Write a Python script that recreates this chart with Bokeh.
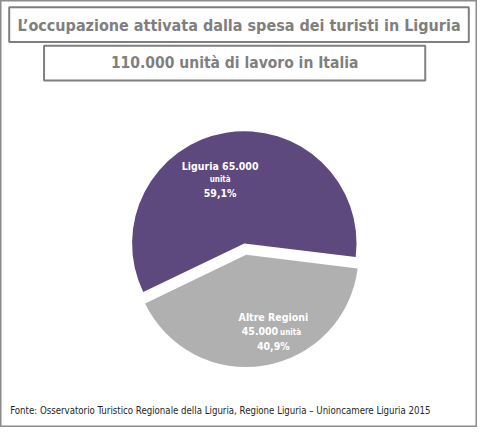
import numpy as np
from bokeh.plotting import figure
from bokeh.models import Range1d, ColumnDataSource
from bokeh.core.properties import value
from bokeh.embed import file_html
from bokeh.resources import INLINE

# ---- data ----
regions = ["Liguria", "Altre Regioni"]
units = [65000, 45000]
shares = ["59,1%", "40,9%"]
unit_labels = ["65.000", "45.000"]
title = "L\u2019occupazione attivata dalla spesa dei turisti in Liguria"
subtitle = "110.000 unit\u00e0 di lavoro in Italia"
source_note = "Fonte: Osservatorio Turistico Regionale della Liguria, Regione Liguria \u2013 Unioncamere Liguria 2015"

# ---- layout (reference-pixel coordinates, y measured from top) ----
W, H = 493, 443
FONT = "DejaVu Sans Condensed"
def Y(y):
    return H - y

p = figure(width=477, height=427, output_backend="svg", toolbar_location=None,
           x_range=Range1d(0, W), y_range=Range1d(0, H), min_border=0)
p.axis.visible = False
p.grid.visible = False
p.outline_line_color = "#8c8c8c"
p.outline_line_width = 2
p.background_fill_color = "white"

# title boxes
p.quad(left=[9, 45], right=[484, 439], top=[Y(7), Y(47)], bottom=[Y(43), Y(83)],
       fill_color=None, line_color="#7f7f7f", line_width=2)
p.text(x=[W / 2], y=[Y(26)], text=[title],
       text_font=value(FONT), text_font_style="bold", text_font_size="16px",
       text_color="#7f7f7f", text_align="center", text_baseline="middle")
p.text(x=[242], y=[Y(65)], text=[subtitle],
       text_font=value(FONT), text_font_style="bold", text_font_size="15.5px",
       text_color="#7f7f7f", text_align="center", text_baseline="middle")

# pie
vals = np.array(units, dtype=float)
frac = vals / vals.sum()
start0 = np.deg2rad(-7.0)
ends = start0 + np.cumsum(frac) * 2 * np.pi
starts = np.concatenate([[start0], ends[:-1]])
mids = (starts + ends) / 2
explode = np.array([0.0, 12.0])
cx, cy, r = 252.0, Y(252), 116.0
src = ColumnDataSource(dict(
    x=cx + explode * np.cos(mids), y=cy + explode * np.sin(mids),
    start=starts, end=ends, color=["#5d497d", "#b0b0b0"]))
p.wedge(x="x", y="y", radius=r, start_angle="start", end_angle="end",
        fill_color="color", line_color=None, source=src)

# slice labels
p.text(x=[227, 227, 282, 282], y=[Y(172), Y(200), Y(328), Y(358)],
       text=[regions[0] + " " + unit_labels[0], shares[0], regions[1], shares[1]],
       text_font=value(FONT), text_font_style="bold", text_font_size="10.5px",
       text_color="white", text_align="center", text_baseline="middle")
p.text(x=[287], y=[Y(343)], text=[unit_labels[1]],
       text_font=value(FONT), text_font_style="bold", text_font_size="10.5px",
       text_color="white", text_align="right", text_baseline="middle")
p.text(x=[227, 289], y=[Y(186), Y(344)], text=["unit\u00e0", "unit\u00e0"],
       text_font=value(FONT), text_font_style="bold", text_font_size="8px",
       text_color="white", text_align=["center", "left"], text_baseline="middle")

# source note
p.text(x=[10], y=[Y(425)], text=[source_note],
       text_font=value(FONT), text_font_size="9.6px",
       text_color="#262626", text_align="left", text_baseline="middle")

open("out.html", "w").write(file_html(p, INLINE))
